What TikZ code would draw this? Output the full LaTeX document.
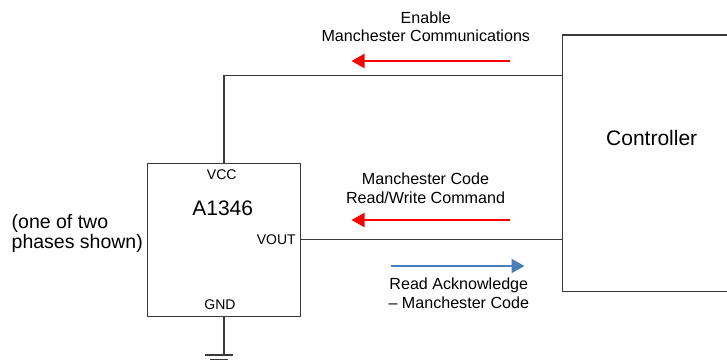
\documentclass[tikz,border=0pt]{standalone}
\usepackage{fontspec}
\setmainfont{Liberation Sans}
\usetikzlibrary{arrows.meta}
\definecolor{wire}{HTML}{3A3A3A}
\definecolor{ackblue}{HTML}{4A7EBB}
\tikzset{
  wireline/.style={draw=wire,line width=1.1bp},
  boxnode/.style={draw=wire,line width=1.1bp,fill=none,inner sep=0pt},
  pinlabel/.style={font=\fontsize{14bp}{16bp}\selectfont,inner sep=0pt},
  msg/.style={font=\fontsize{16.1bp}{18.5bp}\selectfont,align=center,inner sep=0pt},
  bigtext/.style={font=\fontsize{21bp}{24bp}\selectfont,inner sep=0pt},
  redarrow/.style={draw=red,line width=2.2bp,-{Triangle[length=13bp,width=14bp]}},
  bluearrow/.style={draw=ackblue,line width=2.2bp,-{Triangle[length=13bp,width=14bp]}}
}
\begin{document}
\begin{tikzpicture}[x=1bp,y=-1bp]
\clip (0,0) rectangle (727,360);
\fill[white] (0,0) rectangle (727,360);
% boxes
\node[boxnode,minimum width=153.4bp,minimum height=153.4bp] (chip) at (224,240) {};
\node[boxnode,minimum width=178bp,minimum height=256.7bp] (ctrl) at (651.7,163.35) {};
\node[bigtext] (ctrltext) at (651.7,138) {Controller};
\node[bigtext] (chipname) at (222.7,208.5) {A1346};
\node[pinlabel] (vcc) at (221.7,175) {VCC};
\node[pinlabel] (vout) at (276.3,239.5) {VOUT};
\node[pinlabel] (gnd) at (220,304.5) {GND};
% left note
\node[font=\fontsize{19.5bp}{20.5bp}\selectfont,align=left,anchor=west,inner sep=0pt] (note) at (11.5,233.5) {(one of two\\phases shown)};
% wires
\coordinate (vccy) at (0,75.5);
\coordinate (vouty) at (0,239.3);
\draw[wireline] (chip.north) |- (ctrl.west |- vccy);
\draw[wireline] (chip.east |- vouty) -- (ctrl.west |- vouty);
% ground
\coordinate (gndpt) at (224,355);
\draw[wireline] (chip.south) -- (gndpt);
\coordinate (g1l) at (205,355); \coordinate (g1r) at (233,355);
\coordinate (g2l) at (210,359.5); \coordinate (g2r) at (228,359.5);
\draw[wireline] (g1l) -- (g1r);
\draw[wireline] (g2l) -- (g2r);
% messages
\node[msg] (enable) at (425.8,26.5) {Enable\\Manchester Communications};
\coordinate (a1s) at (510,61); \coordinate (a1e) at (351.5,61);
\draw[redarrow] (a1s) -- (a1e);
\node[msg] (rwcmd) at (425.5,188) {Manchester Code\\Read/Write Command};
\coordinate (a2s) at (510,220); \coordinate (a2e) at (351.5,220);
\draw[redarrow] (a2s) -- (a2e);
\coordinate (a3s) at (391,266); \coordinate (a3e) at (524.5,266);
\draw[bluearrow] (a3s) -- (a3e);
\node[msg] (ack) at (458.8,293) {Read Acknowledge\\– Manchester Code};
\end{tikzpicture}
\end{document}
